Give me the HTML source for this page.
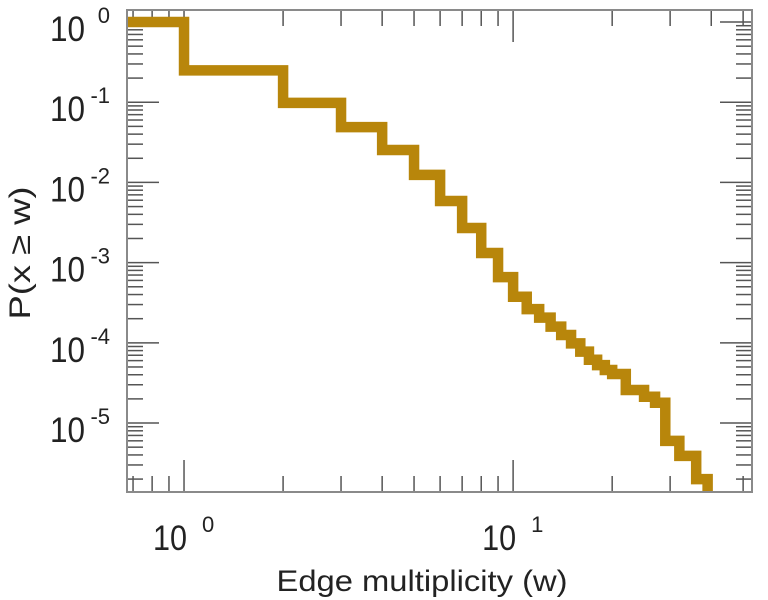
<!DOCTYPE html>
<html><head><meta charset="utf-8"><style>
html,body{margin:0;padding:0;background:#fff;}
svg{display:block;font-family:"Liberation Sans",sans-serif;}
</style></head><body>
<svg id="chart" width="768" height="600" viewBox="0 0 768 600" xmlns="http://www.w3.org/2000/svg">
<g id="ticks"></g>
<g id="labels"></g>
<g id="series"></g>
<rect x="127" y="10" width="625" height="482" fill="none" stroke="#8a8a8a" stroke-width="2"/>
<text x="422" y="591" text-anchor="middle" font-size="30" fill="#222" textLength="291" lengthAdjust="spacingAndGlyphs">Edge multiplicity (w)</text>
<text transform="translate(30,253) rotate(-90)" text-anchor="middle" font-size="30" fill="#222" textLength="133" lengthAdjust="spacingAndGlyphs">P(x ≥ w)</text>
</svg>
<script>
// data: step start values of w and P(x >= w) on each step
const stepW = [0.6, 1, 2, 3, 4, 5, 6, 7, 8, 9, 10, 11, 12, 13, 14, 15, 16, 17, 18, 19, 20, 22, 25, 27, 29, 32, 36, 39];
const stepP = [1, 0.25, 0.098, 0.049, 0.0254, 0.0124, 0.00586, 0.0027, 0.00132, 0.00066, 3.76e-4, 2.63e-4, 2.06e-4, 1.59e-4, 1.25e-4, 9.86e-5, 7.76e-5, 6.15e-5, 5.28e-5, 4.58e-5, 4.08e-5, 2.58e-5, 2.13e-5, 1.79e-5, 6.0e-6, 3.9e-6, 2.0e-6, 1e-6];
const xMajorExps = [0, 1];
const yMajorExps = [0, -1, -2, -3, -4, -5];

const X0 = 127, X1 = 752, Y0 = 10, Y1 = 492;
const xMinL = Math.log10(0.671), xMaxL = Math.log10(53.2);
const yMaxL = 0.15, yMinL = -5.86;
function xs(w){ return X0 + (Math.log10(w) - xMinL) / (xMaxL - xMinL) * (X1 - X0); }
function ys(p){ return Y0 + (yMaxL - Math.log10(p)) / (yMaxL - yMinL) * (Y1 - Y0); }
const NS = "http://www.w3.org/2000/svg";
function mk(tag, attrs, parent){ const e = document.createElementNS(NS, tag); for (const k in attrs) e.setAttribute(k, attrs[k]); parent.appendChild(e); return e; }

const tg = document.getElementById('ticks');
for (let k = -1; k <= 1; k++) for (let m = 1; m <= 9; m++) {
  const w = m * Math.pow(10, k);
  const x = xs(w);
  if (x < X0 + 1 || x > X1 - 1) continue;
  const len = m === 1 ? 32 : 16;
  const t1 = mk('line', {x1:x, x2:x, y1:Y1, y2:Y1-len, stroke:'#555', 'stroke-width':1.5}, tg);
  
  
  const t2 = mk('line', {x1:x, x2:x, y1:Y0, y2:Y0+len, stroke:'#555', 'stroke-width':1.5}, tg);
  
  
}
for (let k = -6; k <= 0; k++) for (let m = 1; m <= 9; m++) {
  const p = m * Math.pow(10, k);
  const y = ys(p);
  if (y < Y0 + 1 || y > Y1 - 1) continue;
  const len = m === 1 ? 32 : 16;
  const t1 = mk('line', {x1:X0, x2:X0+len, y1:y, y2:y, stroke:'#555', 'stroke-width':1.5}, tg);
  
  
  const t2 = mk('line', {x1:X1, x2:X1-len, y1:y, y2:y, stroke:'#555', 'stroke-width':1.5}, tg);
  
  
}
const lg = document.getElementById('labels');
xMajorExps.forEach(e => {
  const x = xs(Math.pow(10, e));
  const b = mk('text', {x:x-31, y:550, 'font-size':35, fill:'#222', textLength:34, lengthAdjust:'spacingAndGlyphs'}, lg);
  
  
  b.textContent = '10';
  const s = mk('text', {x:x+18, y:532, 'font-size':22, fill:'#222'}, lg);
  
  
  s.textContent = String(e);
});
yMajorExps.forEach(e => {
  const y = ys(Math.pow(10, e));
  const b = mk('text', {x:50, y:y+19, 'font-size':35, fill:'#222', textLength:35, lengthAdjust:'spacingAndGlyphs'}, lg);
  
  
  b.textContent = '10';
  const s = mk('text', {x:110, y:y+1, 'font-size':22, fill:'#222', 'text-anchor':'end'}, lg);
  
  
  s.textContent = e === 0 ? '0' : '-' + (-e);
});
let d = '';
for (let i = 0; i < stepW.length; i++) {
  const x = Math.max(xs(stepW[i]), X0);
  const y = ys(stepP[i]);
  if (i === 0) d += 'M' + x + ',' + y;
  else d += 'V' + y;
  const xe = i + 1 < stepW.length ? xs(stepW[i+1]) : xs(stepW[i]);
  d += 'H' + xe;
}
const clip = mk('clipPath', {id:'pc'}, document.getElementById('chart'));
mk('rect', {x:X0, y:Y0, width:X1-X0, height:Y1-Y0}, clip);
const path = mk('path', {d:d, fill:'none', stroke:'#b8860b', 'stroke-width':10.5, 'stroke-linejoin':'miter', 'clip-path':'url(#pc)'}, document.getElementById('series'));


</script>
</body></html>
